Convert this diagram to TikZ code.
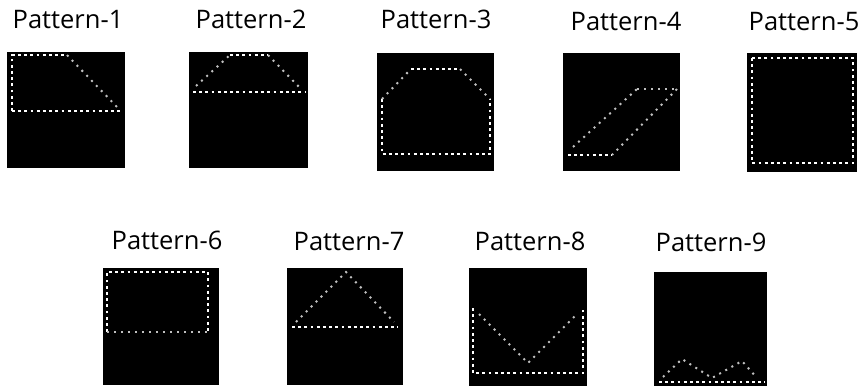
\documentclass[tikz,border=0pt]{standalone}
\usepackage{fontspec}
\setmainfont{Open Sans}
\usetikzlibrary{positioning}

\begin{document}
\begin{tikzpicture}[x=1pt, y=-1pt,
  panel/.style={fill=black, inner sep=0pt, outer sep=0pt},
  plabel/.style={font=\fontsize{25.5}{28}\selectfont, anchor=base, inner sep=0pt},
  dotrow/.style={white, line width=2.8pt, dash pattern=on 2.8pt off 3.4pt},
  dotslope/.style={white!75!black, line width=2pt, dash pattern=on 2pt off 5pt}]
\useasboundingbox (0,0) rectangle (860,386);
% image panels
\foreach \n/\x/\y/\w/\h in {1/66/110/118/116, 2/248.5/110/119/116, 3/435.5/112/117/118,
    4/621.5/112/117/118, 5/802/112.5/110/119, 6/161/326.5/116/117,
    7/345/326.5/116/117, 8/528/327/118/118, 9/710.5/329/113/114}
  {\node[panel, minimum width=\w pt, minimum height=\h pt] (p\n) at (\x,\y) {};}
% titles
\foreach \n/\x/\y in {1/68/28, 2/251/28, 3/436/28, 4/626/30, 5/804/30,
    6/167/249, 7/349/250, 8/530/250, 9/711/251}
  {\node[plabel] (t\n) at (\x,\y) {Pattern-\n};}
% Pattern-1
\draw[dotrow] (12,111) -- (12,55) -- (67,55);
\draw[dotrow] (12,111) -- (121,111);
\draw[dotslope] (67,55) -- (117,107);
% Pattern-2
\draw[dotrow] (193,92) -- (305,92);
\draw[dotrow] (230,55) -- (268,55);
\draw[dotslope] (196,86) -- (230,55);
\draw[dotslope] (268,55) -- (302,90);
% Pattern-3
\draw[dotrow] (382,99) -- (382,154) -- (490,154) -- (490,99);
\draw[dotrow] (411,69) -- (460,69);
\draw[dotslope] (382,99) -- (411,69);
\draw[dotslope] (460,69) -- (490,99);
% Pattern-4
\draw[dotrow] (568,155) -- (612,155);
\draw[dotslope] (637,89) -- (677,89);
\draw[dotslope] (573,147) -- (637,89);
\draw[dotslope] (677,89) -- (612,155);
% Pattern-5
\draw[dotrow] (752,58) rectangle (853,163);
% Pattern-6
\draw[dotrow] (107,332) -- (107,272) -- (208,272) -- (208,332);
\draw[dotslope] (107,332) -- (208,332);
% Pattern-7
\draw[dotrow] (292,327) -- (398,327);
\draw[dotslope] (296,322) -- (346,272) -- (394,322);
% Pattern-8
\draw[dotrow] (473,308) -- (473,373) -- (583,373) -- (583,308);
\draw[dotslope] (479,314) -- (528,363) -- (577,314);
% Pattern-9
\draw[dotrow] (659,382) -- (765,382);
\draw[dotslope] (663,377) -- (682,359) -- (712,378) -- (742,361) -- (757,378);
\end{tikzpicture}
\end{document}
